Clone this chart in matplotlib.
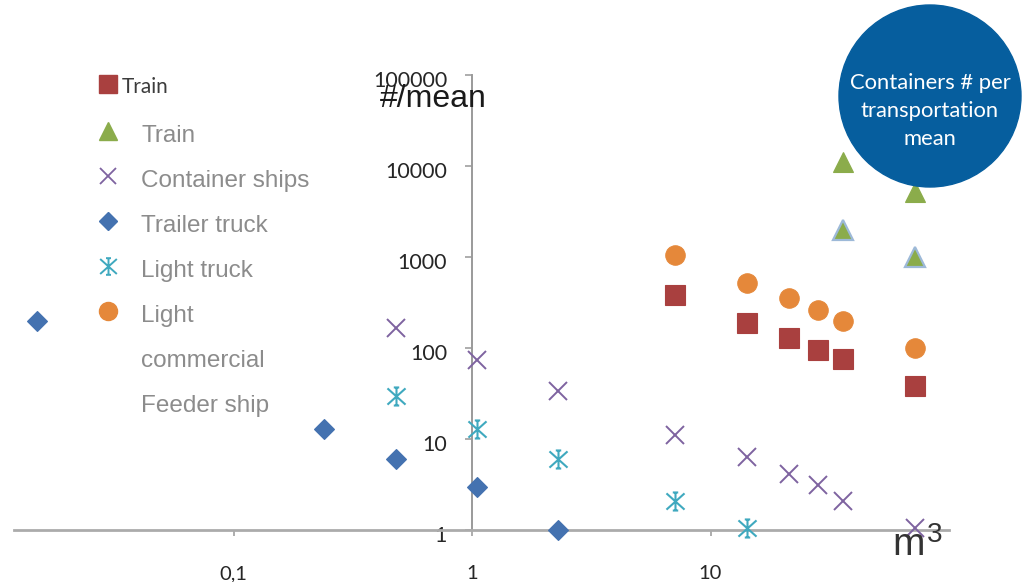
import matplotlib
matplotlib.use('Agg')
import matplotlib.pyplot as plt
from matplotlib.lines import Line2D
from matplotlib.patches import Circle
from matplotlib.path import Path
from matplotlib.ticker import FixedLocator, FixedFormatter, NullLocator
from matplotlib.transforms import ScaledTranslation

plt.rcParams['font.family'] = ['Lato', 'DejaVu Sans']

# container volume (m3) and number of containers per transportation mean
train_x = [7.1, 14.2, 21.3, 28.3, 35.8, 72]
train_y = [380, 190, 130, 95, 75, 38]

train2_x = [35.8, 72]
train2_y = [11000, 5200]

feeder_x = [35.8, 72]
feeder_y = [2000, 1000]

ships_x = [0.48, 1.05, 2.3, 7.1, 14.2, 21.3, 28.3, 35.8, 72]
ships_y = [165, 74, 34, 11, 6.3, 4.1, 3.1, 2.1, 1.05]

trailer_x = [0.015, 0.24, 0.48, 1.05, 2.3]
trailer_y = [200, 13, 6, 3, 1]

light_truck_x = [0.48, 1.05, 2.3, 7.1, 14.2]
light_truck_y = [30, 13, 6, 2.1, 1.05]

light_comm_x = [7.1, 14.2, 21.3, 28.3, 35.8, 72]
light_comm_y = [1050, 520, 350, 260, 200, 100]

x_ticks = [0.1, 1, 10]
x_tick_labels = ['0,1', '1', '10']
y_ticks = [1, 10, 100, 1000, 10000, 100000]
y_tick_labels = ['1', '10', '100', '1000', '10000', '100000']

legend_labels = ['Train', 'Container ships', 'Trailer truck', 'Light truck',
                 'Light', 'commercial', 'Feeder ship']

RED = '#A9403F'
GREEN = '#8BAC4B'
PURPLE = '#7E63A0'
BLUE = '#4472B0'
CYAN = '#3FA9BF'
ORANGE = '#E5883A'
EDGE_BLUE = '#9DB9D8'
GREY_TXT = '#8c8c8c'

# asterisk marker: an x with a vertical bar
star = Path([(-1, -0.9), (1, 0.9), (-1, 0.9), (1, -0.9),
             (0, -1), (0, 1), (-0.3, 1), (0.3, 1),
             (-0.3, -1), (0.3, -1)],
            [Path.MOVETO, Path.LINETO] * 5)

W, H = 1024, 582
fig = plt.figure(figsize=(W / 100, H / 100), dpi=100)


def fx(x):
    return x / W


def fy(y):
    return 1 - y / H


ax = fig.add_axes([fx(14), fy(530), fx(949) - fx(14), fy(75) - fy(530)])
ax.set_xscale('log')
ax.set_yscale('log')
ax.set_xlim(0.012, 100)
ax.set_ylim(1, 100000)

ax.spines['top'].set_visible(False)
ax.spines['right'].set_visible(False)
ax.spines['left'].set_position(('data', 1))
ax.spines['left'].set_color('#9a9a9a')
ax.spines['left'].set_linewidth(1.4)
ax.spines['bottom'].set_color('#ababab')
ax.spines['bottom'].set_linewidth(2.0)

ax.xaxis.set_major_locator(FixedLocator(x_ticks))
ax.xaxis.set_major_formatter(FixedFormatter(x_tick_labels))
ax.xaxis.set_minor_locator(NullLocator())
ax.yaxis.set_major_locator(FixedLocator(y_ticks))
ax.yaxis.set_major_formatter(FixedFormatter(y_tick_labels))
ax.yaxis.set_minor_locator(NullLocator())
ax.tick_params(axis='x', direction='out', length=4.3, width=1.2, color='#a0a0a0',
               pad=21, labelsize=14.5, labelcolor='#262626')
ax.tick_params(axis='y', direction='out', length=5, width=1.2, color='#a0a0a0',
               pad=13, labelsize=15.5, labelcolor='#262626')

# y labels sit a little below their ticks
shift = ScaledTranslation(0, -4 / 100, fig.dpi_scale_trans)
for t in ax.yaxis.get_major_ticks():
    t.label1.set_transform(t.label1.get_transform() + shift)

ms_kw = dict(ls='none', clip_on=False, zorder=3)
ax.plot(train_x, train_y, marker='s', ms=14, color=RED, mec=RED, mew=0.8, **ms_kw)
ax.plot(light_comm_x, light_comm_y, marker='o', ms=14, color=ORANGE, mec=ORANGE, mew=0.8, **ms_kw)
ax.plot(train2_x, train2_y, marker='^', ms=14, color=GREEN, mec=GREEN, mew=0.8, **ms_kw)
ax.plot(feeder_x, feeder_y, marker='^', ms=14, color=GREEN, mec=EDGE_BLUE, mew=1.6, **ms_kw)
ax.plot(trailer_x, trailer_y, marker='D', ms=10, color=BLUE, mec=BLUE, mew=0.8, **ms_kw)
ax.plot(ships_x, ships_y, marker='x', ms=13, color=PURPLE, mew=1.4, **ms_kw)
ax.plot(light_truck_x, light_truck_y, marker=star, ms=13, color=CYAN, mfc='none', mew=1.5, **ms_kw)

# axis captions
fig.text(fx(380), fy(107), '#/mean', family='Liberation Sans', fontsize=23,
         color='#1a1a1a', va='baseline', ha='left')
fig.text(fx(892), fy(555), 'm', family='Liberation Sans', fontsize=28,
         color='#333333', va='baseline', ha='left', zorder=6)
fig.text(fx(927), fy(542), '3', family='Liberation Sans', fontsize=20,
         color='#333333', va='baseline', ha='left', zorder=6)

# legend, drawn by hand
fig.add_artist(Line2D([fx(108)], [fy(84)], marker='s', ms=13, color=RED, ls='none'))
fig.text(fx(122), fy(93), 'Train', fontsize=15, color='#3c3c3c', va='baseline')

leg_markers = [
    dict(marker='^', ms=13, color=GREEN, mec=GREEN),
    dict(marker='x', ms=11, color=PURPLE, mew=1.3),
    dict(marker='D', ms=9.5, color=BLUE, mec=BLUE),
    dict(marker=star, ms=12, color=CYAN, mfc='none', mew=1.4),
    dict(marker='o', ms=13, color=ORANGE, mec=ORANGE),
]
for i, label in enumerate(legend_labels):
    base = 142 + 45 * i
    if i < len(leg_markers):
        fig.add_artist(Line2D([fx(108)], [fy(base - 11)], ls='none', **leg_markers[i]))
    fig.text(fx(141), fy(base), label, family='Liberation Sans', fontsize=17.5,
             color=GREY_TXT, va='baseline', ha='left')

# blue badge in the corner
badge = Circle((930 / 100, (H - 96) / 100), 0.91, transform=fig.dpi_scale_trans,
               color='#065E9E', zorder=5)
fig.add_artist(badge)
for j, line in enumerate(['Containers # per', 'transportation', 'mean']):
    fig.text(fx(930), fy(83 + 28 * j), line, fontsize=15.8, color='white',
             ha='center', va='center', zorder=6)

fig.savefig('out.png', dpi=100)
